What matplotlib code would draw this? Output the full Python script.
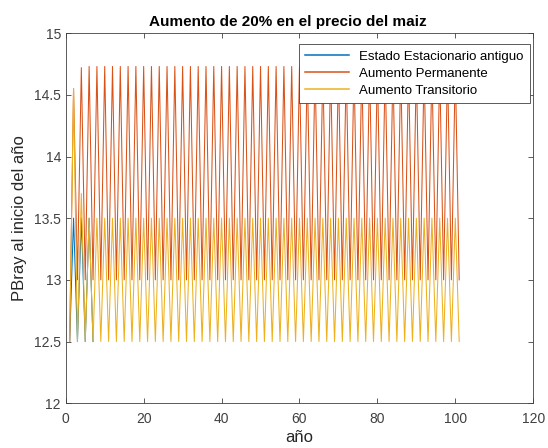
import matplotlib
matplotlib.use("Agg")
import matplotlib.pyplot as plt

plt.rcParams['font.family'] = ['Liberation Sans', 'DejaVu Sans']

# año (eje x) y precios
anio_antiguo = [1, 2, 3, 4, 5, 6, 7]
p_antiguo = [12.5, 13.5, 12.5, 13.5, 12.5, 13.5, 12.5]

anio = list(range(1, 102))
p_permanente = [
    12.5, 14.55, 13.0, 14.72, 13.0, 14.73, 13.0, 14.73, 13.0, 14.73,
    13.0, 14.73, 13.0, 14.73, 13.0, 14.73, 13.0, 14.73, 13.0, 14.73,
    13.0, 14.73, 13.0, 14.73, 13.0, 14.73, 13.0, 14.73, 13.0, 14.73,
    13.0, 14.73, 13.0, 14.73, 13.0, 14.73, 13.0, 14.73, 13.0, 14.73,
    13.0, 14.73, 13.0, 14.73, 13.0, 14.73, 13.0, 14.73, 13.0, 14.73,
    13.0, 14.73, 13.0, 14.73, 13.0, 14.73, 13.0, 14.73, 13.0, 14.73,
    13.0, 14.73, 13.0, 14.73, 13.0, 14.73, 13.0, 14.73, 13.0, 14.73,
    13.0, 14.73, 13.0, 14.73, 13.0, 14.73, 13.0, 14.73, 13.0, 14.73,
    13.0, 14.73, 13.0, 14.73, 13.0, 14.73, 13.0, 14.73, 13.0, 14.73,
    13.0, 14.73, 13.0, 14.73, 13.0, 14.73, 13.0, 14.73, 13.0, 14.73,
    13.0,
]
p_transitorio = [
    12.5, 14.55, 12.5, 13.7, 12.5, 13.5, 12.5, 13.5, 12.5, 13.5,
    12.5, 13.5, 12.5, 13.5, 12.5, 13.5, 12.5, 13.5, 12.5, 13.5,
    12.5, 13.5, 12.5, 13.5, 12.5, 13.5, 12.5, 13.5, 12.5, 13.5,
    12.5, 13.5, 12.5, 13.5, 12.5, 13.5, 12.5, 13.5, 12.5, 13.5,
    12.5, 13.5, 12.5, 13.5, 12.5, 13.5, 12.5, 13.5, 12.5, 13.5,
    12.5, 13.5, 12.5, 13.5, 12.5, 13.5, 12.5, 13.5, 12.5, 13.5,
    12.5, 13.5, 12.5, 13.5, 12.5, 13.5, 12.5, 13.5, 12.5, 13.5,
    12.5, 13.5, 12.5, 13.5, 12.5, 13.5, 12.5, 13.5, 12.5, 13.5,
    12.5, 13.5, 12.5, 13.5, 12.5, 13.5, 12.5, 13.5, 12.5, 13.5,
    12.5, 13.5, 12.5, 13.5, 12.5, 13.5, 12.5, 13.5, 12.5, 13.5,
    12.5,
]

fig = plt.figure(figsize=(5.48, 4.48), dpi=100)
ax = fig.add_axes([0.120, 0.100, 0.853, 0.826])

ax.plot(anio_antiguo, p_antiguo, color='#0072BD', lw=0.75, label='Estado Estacionario antiguo')
ax.plot(anio, p_permanente, color='#D95319', lw=0.75, label='Aumento Permanente')
ax.plot(anio, p_transitorio, color='#EDB120', lw=0.75, label='Aumento Transitorio')

ax.set_xlim(0, 120)
ax.set_ylim(12, 15)
ax.set_xticks([0, 20, 40, 60, 80, 100, 120])
ax.set_yticks([12, 12.5, 13, 13.5, 14, 14.5, 15])
ax.set_yticklabels(['12', '12.5', '13', '13.5', '14', '14.5', '15'])
ax.tick_params(direction='in', top=True, right=True, labelsize=10,
               colors='#404040', length=3.5, width=0.6)
ax.tick_params(axis='x', pad=6)
for s in ax.spines.values():
    s.set_color('#404040')
    s.set_linewidth(0.6)

ax.set_xlabel('año', fontsize=12, color='#262626', labelpad=3)
ax.set_ylabel('PBray al inicio del año', fontsize=12, color='#262626', labelpad=5)
ax.set_title('Aumento de 20% en el precio del maiz', fontsize=11,
             fontweight='bold', pad=5, x=0.475)

leg = ax.legend(loc='upper right', bbox_to_anchor=(0.994, 0.970),
                fontsize=9.5, fancybox=False, framealpha=1,
                edgecolor='#404040', borderaxespad=0,
                handlelength=3.3, labelspacing=0.35, borderpad=0.5)
leg.get_frame().set_linewidth(0.6)
for h in leg.get_lines():
    h.set_linewidth(1.1)

fig.savefig('out.png', dpi=100)
